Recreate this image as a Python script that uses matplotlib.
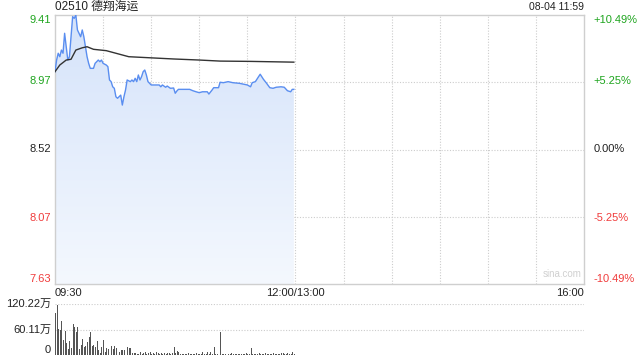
import numpy as np
import matplotlib
matplotlib.use("Agg")
import matplotlib.pyplot as plt
from matplotlib.colors import LinearSegmentedColormap

plt.rcParams['font.family'] = ['Liberation Sans', 'Noto Sans CJK SC', 'DejaVu Sans']

title = "02510 德翔海运"
stamp = "08-04 11:59"

# minute offsets from 09:30 and prices
price_min = [0, 1, 2, 3, 4, 5, 6, 7, 8, 9, 10, 11, 12, 13, 14, 16, 17, 18, 19, 20,
             21, 22, 24, 25, 26, 27, 28, 29, 30, 32, 33, 34, 35, 36, 37, 38, 39, 41, 42, 43,
             44, 45, 47, 48, 49, 50, 51, 52, 53, 54, 55, 56, 57, 58, 59, 60, 63, 65, 66, 67,
             69, 70, 72, 74, 75, 76, 77, 84, 86, 88, 90, 92, 95, 96, 98, 99, 102, 103, 105, 108,
             111, 115, 120, 122, 123, 125, 127, 128, 130, 132, 134, 136, 138, 141, 143, 145, 147, 148, 149]
price_val = [9.035, 9.112, 9.157, 9.134, 9.178, 9.157, 9.289, 9.200, 9.112, 9.134, 9.266, 9.399, 9.388, 9.410, 9.311, 9.266, 9.311, 9.266, 9.200, 9.134,
             9.090, 9.057, 9.057, 9.090, 9.101, 9.112, 9.101, 9.112, 9.090, 9.079, 9.068, 8.980, 8.969, 8.935, 8.925, 8.869, 8.859, 8.880, 8.814, 8.869,
             8.914, 8.980, 8.969, 8.980, 8.969, 8.991, 8.969, 9.013, 8.980, 9.002, 9.035, 9.046, 9.013, 8.969, 8.958, 8.947, 8.947, 8.947, 8.935, 8.947,
             8.932, 8.940, 8.925, 8.927, 8.892, 8.907, 8.918, 8.918, 8.909, 8.902, 8.896, 8.902, 8.902, 8.887, 8.914, 8.929, 8.929, 8.965, 8.962, 8.969,
             8.962, 8.958, 8.947, 8.935, 8.962, 8.969, 9.002, 9.018, 8.985, 8.958, 8.929, 8.925, 8.932, 8.935, 8.932, 8.909, 8.902, 8.918, 8.918]

avg_min = [0, 3, 7, 10, 13, 17, 20, 24, 32, 46, 59, 74, 90, 103, 122, 149]
avg_val = [9.035, 9.079, 9.112, 9.117, 9.178, 9.193, 9.200, 9.183, 9.174, 9.134, 9.127, 9.119, 9.112, 9.105, 9.103, 9.098]

# volume per minute (万)
volume = [99, 119, 61, 59, 81, 36, 57, 29, 14, 33, 16, 74, 67, 54, 66, 14, 24, 38, 20, 22,
          30, 42, 54, 22, 24, 20, 32, 12, 4, 20, 36, 8, 16, 13, 55, 21, 14, 21, 16, 12,
          8, 12, 12, 12, 47, 20, 16, 16, 4, 4, 4, 2, 2, 8, 2, 4, 6, 2, 4, 6,
          2, 4, 2, 6, 4, 2, 4, 3, 4, 2, 4, 4, 2, 4, 20, 5,
          9, 7, 3, 3,
          2, 3, 2, 4, 2, 3, 3, 2, 4, 3, 2, 3, 6, 3, 2, 6, 3, 6, 3,
          20, 3, 2, 3, 55,
          3, 2, 3, 2, 2, 3, 4, 2, 3, 2, 3, 2, 2, 3, 2, 4, 3, 2,
          16,
          3, 2, 3, 2, 4, 3, 2, 3, 4, 2, 3, 3, 2, 4, 3, 2, 3, 2, 4, 5, 3, 2, 4, 3, 2, 6, 3]

price_ticks = [9.41, 8.97, 8.52, 8.07, 7.63]
price_labels = ["9.41", "8.97", "8.52", "8.07", "7.63"]
pct_labels = ["+10.49%", "+5.25%", "0.00%", "-5.25%", "-10.49%"]
vol_ticks = [120.22, 60.11, 0]
vol_labels = ["120.22万", "60.11万", "0"]
time_pos = [0, 150, 330]
time_labels = ["09:30", "12:00/13:00", "16:00"]

GREEN = '#1fa51f'
RED = '#f03c3c'
DARK = '#222222'
GRID = '#cccccc'
BORDER = '#cfcfcf'
label_colors = [GREEN, GREEN, DARK, RED, RED]

W, H = 640, 360
fig = plt.figure(figsize=(6.4, 3.6), dpi=100)
ax = fig.add_axes([55 / W, 1 - 284 / H, (584 - 55) / W, (284 - 15) / H])
axv = fig.add_axes([55 / W, 1 - 355 / H, (584 - 55) / W, (355 - 304) / H])

ymin, ymax = 7.63, 9.41
ax.set_xlim(0, 330)
ax.set_ylim(ymin, ymax)

# grid
for m in range(30, 330, 30):
    ax.axvline(m, color=GRID, lw=0.8, ls=(0, (1, 1.5)), zorder=0)
for v in [8.965, 8.52, 8.075]:
    ax.axhline(v, color=GRID, lw=0.8, ls=(0, (1, 1.5)), zorder=0)

# gradient fill under price
poly = ax.fill_between(price_min, price_val, ymin, color='none', lw=0)
cmap = LinearSegmentedColormap.from_list('g', ['#f4f8fe', '#d5e3fa'])
grad = np.linspace(0, 1, 256).reshape(-1, 1)
im = ax.imshow(grad, cmap=cmap, origin='lower', aspect='auto',
               extent=[0, 330, ymin, ymax], zorder=1)
im.set_clip_path(poly.get_paths()[0], transform=ax.transData)
ax.set_xlim(0, 330)
ax.set_ylim(ymin, ymax)

ax.plot(price_min, price_val, color='#5a8ef0', lw=1.0, zorder=3)
ax.plot(avg_min, avg_val, color='#333333', lw=1.0, zorder=3)

ax.set_xticks([])
ax.set_yticks([])
for s in ax.spines.values():
    s.set_color(BORDER)
    s.set_linewidth(1.0)

# left / right labels
for i, (v, lab, pl, c) in enumerate(zip(price_ticks, price_labels, pct_labels, label_colors)):
    va = 'top' if i == 0 else ('bottom' if i == 4 else 'center')
    yy = v if 0 < i < 4 else v
    ax.text(-4 / 529 * 330, yy, lab, ha='right', va=va, color=c, fontsize=8)
    ax.text(334 + 2, yy, pl, ha='left', va=va, color=c, fontsize=8)

# time labels
xt = ax.get_xaxis_transform()
ax.text(time_pos[0], -0.033, time_labels[0], ha='left', va='center', fontsize=8, color=DARK, transform=xt)
ax.text(time_pos[1], -0.033, time_labels[1], ha='center', va='center', fontsize=8, color=DARK, transform=xt)
ax.text(time_pos[2], -0.033, time_labels[2], ha='right', va='center', fontsize=8, color=DARK, transform=xt)

# header
ax.text(0, 1.03, title, ha='left', va='center', fontsize=8.5, color=DARK, transform=ax.transAxes)
ax.text(1, 1.03, stamp, ha='right', va='center', fontsize=7.5, color=DARK, transform=ax.transAxes)
ax.text(0.995, 0.02, "sina.com", ha='right', va='bottom', fontsize=7, color='#d0d0d0', transform=ax.transAxes)

# volume
axv.set_xlim(0, 330)
axv.set_ylim(0, 120.22)
axv.bar(np.arange(len(volume)), volume, width=0.6, color='#555555', align='edge', zorder=2)
for v in [120.22, 60.11]:
    axv.axhline(v, color=GRID, lw=0.8, ls=(0, (1, 1.5)), zorder=0)
for s in axv.spines.values():
    s.set_visible(False)
axv.set_xticks([])
axv.set_yticks([])
for v, lab in zip(vol_ticks, vol_labels):
    va = 'center' if v > 0 else 'bottom'
    axv.text(-4 / 529 * 330, v, lab, ha='right', va=va, fontsize=8, color=DARK,
             family=['Liberation Sans', 'Noto Sans CJK SC'])

fig.savefig('out.png', dpi=100)
